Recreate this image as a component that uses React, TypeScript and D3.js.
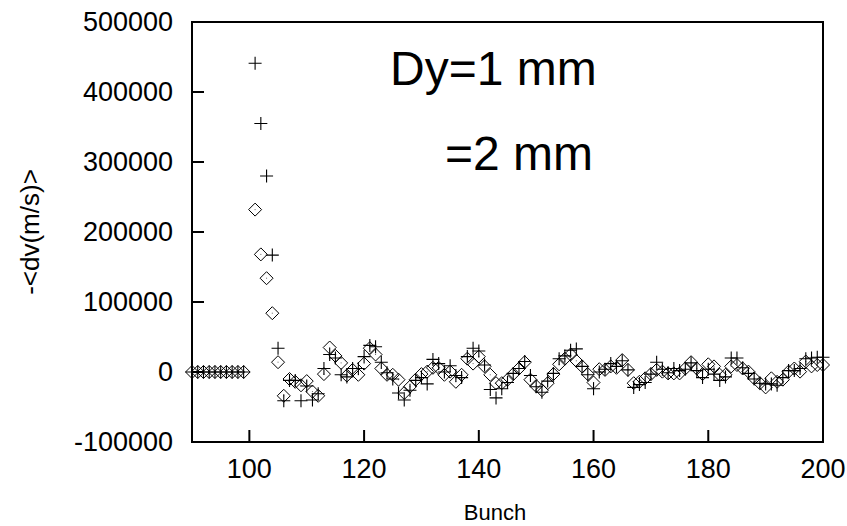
import React from "react";
import * as d3 from "d3";

const bunches = [
  90, 91, 92, 93, 94, 95, 96, 97, 98, 99,
  101, 102, 103, 104, 105, 106, 107, 108, 109, 110,
  111, 112, 113, 114, 115, 116, 117, 118, 119, 120,
  121, 122, 123, 124, 125, 126, 127, 128, 129, 130,
  131, 132, 133, 134, 135, 136, 137, 138, 139, 140,
  141, 142, 143, 144, 145, 146, 147, 148, 149, 150,
  151, 152, 153, 154, 155, 156, 157, 158, 159, 160,
  161, 162, 163, 164, 165, 166, 167, 168, 169, 170,
  171, 172, 173, 174, 175, 176, 177, 178, 179, 180,
  181, 182, 183, 184, 185, 186, 187, 188, 189, 190,
  191, 192, 193, 194, 195, 196, 197, 198, 199, 200,
];

// Dy = 1 mm (crosses)
const dy1mm = [
  0, 0, 0, 0, 0, 0, 0, 0, 0, 0,
  441000, 355000, 280000, 167000, 34000, -41000, -12000, -12000, -41000, -20000,
  -40000, -31000, 5000, 25000, 20000, -4000, -7000, 5000, 5000, 22000,
  38000, 36000, 14000, -1000, -10000, -30000, -40000, -26000, -12000, -8000,
  -17000, 18000, 12000, 0, 9000, -5000, -8000, 22000, 34000, 30000,
  10000, -25000, -37000, -24000, -15000, -2000, 5000, 15000, -5000, -21000,
  -29000, -13000, -2000, 19000, 23000, 31000, 33000, 8000, -4000, -24000,
  0, 4000, 12000, 8000, 16000, 3000, -22000, -18000, -15000, -3000,
  14000, 4000, -1000, 5000, 2000, 4000, 13000, 2000, -8000, 4000,
  -3000, -12000, -7000, 20000, 20000, 6000, -2000, -10000, -16000, -17000,
  -17000, -19000, -8000, 2000, 2000, 5000, 19000, 20000, 21000, 21000,
];

// Dy = 2 mm (diamonds)
const dy2mm = [
  0, 0, 0, 0, 0, 0, 0, 0, 0, 0,
  232000, 168000, 134000, 84000, 14000, -34000, -10000, -14000, -19000, -13000,
  -28000, -34000, -3000, 35000, 23000, 13000, -5000, 3000, -4000, 12000,
  34000, 25000, 5000, -4000, -4000, -11000, -30000, -21000, -11000, -3000,
  500, 6000, 6000, -4000, 500, -14000, -4000, 19000, 12000, 22000,
  8000, -4000, -16000, -16000, -11000, -3000, 5000, 14000, -11000, -20000,
  -26000, -16000, -3000, 11000, 19000, 25000, 16000, 8000, -3000, -15000,
  4000, 3000, 8000, 6000, 17000, 3000, -16000, -14000, -9000, -3000,
  3000, 500, -2000, -2000, -2000, 5000, 14000, 5000, -3000, 11000,
  8000, -4000, -4000, 8000, 10000, 5000, 500, -9000, -16000, -22000,
  -9000, -14000, -11000, 500, 5000, 500, 15000, 8000, 10000, 10000,
];

const xTicks = [100, 120, 140, 160, 180, 200];
const yTicks = [-100000, 0, 100000, 200000, 300000, 400000, 500000];

const W = 847;
const H = 526;
const left = 192;
const right = 823;
const top = 22;
const bottom = 442;
const FONT = "'Liberation Sans', Arial, Helvetica, sans-serif";

export default function App() {
  const x = d3.scaleLinear().domain([90, 200]).range([left, right]);
  const y = d3.scaleLinear().domain([-100000, 500000]).range([bottom, top]);
  const tickLen = 12;
  const r = 6.5;
  const diamond = (cx: number, cy: number) =>
    `M${cx},${cy - r}L${cx + r},${cy}L${cx},${cy + r}L${cx - r},${cy}Z`;

  return (
    <svg
      width={W}
      height={H}
      style={{ position: "absolute", left: 0, top: 0, background: "#fff" }}
      fontFamily={FONT}
    >
      <rect x={0} y={0} width={W} height={H} fill="#fff" />
      {/* data: diamonds */}
      <g>
        {bunches.map((b, i) => (
          <g key={"d" + i}>
            <path d={diamond(x(b), y(dy2mm[i]))} fill="none" stroke="#000" strokeWidth={1} />
            <rect x={x(b) - 0.5} y={y(dy2mm[i]) - 0.5} width={1} height={1} fill="#666" />
          </g>
        ))}
      </g>
      {/* data: crosses */}
      <g>
        {bunches.map((b, i) => {
          const cx = x(b);
          const cy = y(dy1mm[i]);
          return (
            <path
              key={"c" + i}
              d={`M${cx - r},${cy}H${cx + r}M${cx},${cy - r}V${cy + r}`}
              stroke="#000"
              strokeWidth={1.1}
              fill="none"
            />
          );
        })}
      </g>
      {/* frame */}
      <rect x={left} y={top} width={right - left} height={bottom - top} fill="none" stroke="#000" strokeWidth={2} />
      {/* y ticks */}
      {yTicks.map((t) => (
        <g key={"yt" + t}>
          <line x1={left} x2={left + tickLen} y1={y(t)} y2={y(t)} stroke="#000" strokeWidth={2} />
          <text x={173} y={y(t)} dy="0.35em" textAnchor="end" fontSize={27} fill="#000">
            {t}
          </text>
        </g>
      ))}
      {/* x ticks */}
      {xTicks.map((t) => (
        <g key={"xt" + t}>
          <line x1={x(t)} x2={x(t)} y1={bottom} y2={bottom - tickLen} stroke="#000" strokeWidth={2} />
          <text x={x(t)} y={478} textAnchor="middle" fontSize={27} fill="#000">
            {t}
          </text>
        </g>
      ))}
      {/* axis titles */}
      <text x={495} y={520} textAnchor="middle" fontSize={22} fill="#000">
        Bunch
      </text>
      <text
        transform={`translate(39, ${(top + bottom) / 2}) rotate(-90)`}
        textAnchor="middle"
        fontSize={26}
        fill="#000"
      >
        -&lt;dv(m/s)&gt;
      </text>
      {/* annotations */}
      <text x={390} y={85} fontSize={48} fill="#000">
        Dy=1 mm
      </text>
      <text x={445} y={170} fontSize={48} fill="#000">
        =2 mm
      </text>
    </svg>
  );
}
